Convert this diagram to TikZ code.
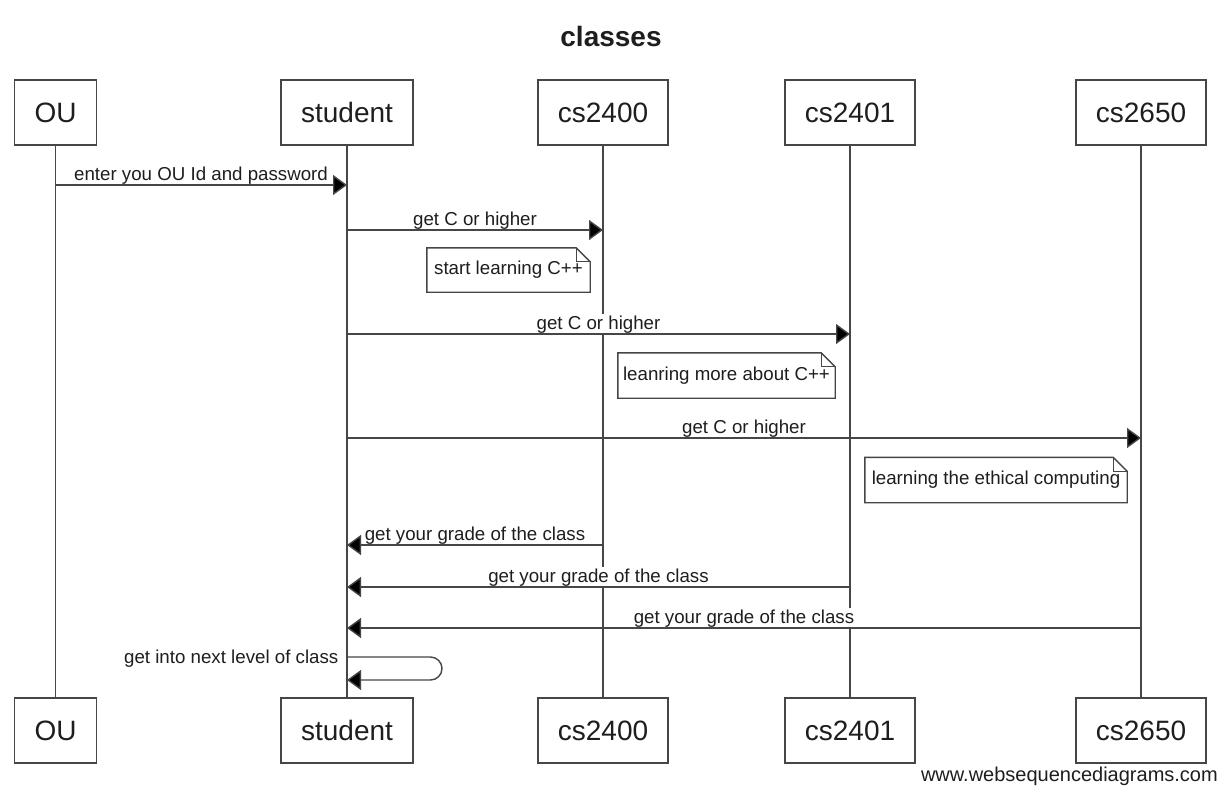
\documentclass[tikz,border=0pt]{standalone}
\usepackage{fontspec}
\setmainfont{Liberation Sans}
\usetikzlibrary{arrows.meta,backgrounds}
\definecolor{linec}{RGB}{70,70,70}
\definecolor{textc}{RGB}{30,30,30}
\begin{document}
\begin{tikzpicture}[x=1pt,y=-1pt,
  actor/.style={draw=linec,line width=1.4pt,fill=white,minimum height=65pt,inner xsep=20pt,
    font=\fontsize{28}{30}\selectfont,text=textc},
  lifeline/.style={draw=linec,line width=1.4pt},
  msg/.style={draw=linec,line width=1.4pt,-{Triangle[length=14pt,width=20pt,fill=black]}},
  lbl/.style={fill=white,inner sep=1.5pt,anchor=base,font=\fontsize{18.7}{20}\selectfont,text=textc},
  notetext/.style={font=\fontsize{18.7}{20}\selectfont,text=textc,inner sep=0pt},
  noteline/.style={draw=linec,line width=1.4pt,fill=white}]
\useasboundingbox (0,0) rectangle (1230,808);
% title
\node[anchor=base,font=\bfseries\fontsize{28}{30}\selectfont,text=textc] (title) at (611,47) {classes};
% actor boxes
\node[actor] (OUt) at (55.5,112.5) {OU};
\node[actor] (stt) at (347,112.5) {student};
\node[actor] (at) at (603,112.5) {cs2400};
\node[actor] (bt) at (850,112.5) {cs2401};
\node[actor] (ct) at (1141,112.5) {cs2650};
\node[actor] (OUb) at (55.5,730.5) {OU};
\node[actor] (stb) at (347,730.5) {student};
\node[actor] (ab) at (603,730.5) {cs2400};
\node[actor] (bb) at (850,730.5) {cs2401};
\node[actor] (cb) at (1141,730.5) {cs2650};
% lifelines behind
\begin{scope}[on background layer]
\fill[white] (0,0) rectangle (1230,808);
\draw[lifeline] (OUt.south) -- (OUb.north);
\draw[lifeline] (stt.south) -- (stb.north);
\draw[lifeline] (at.south) -- (ab.north);
\draw[lifeline] (bt.south) -- (bb.north);
\draw[lifeline] (ct.south) -- (cb.north);
\end{scope}
% message rows
\coordinate (y1) at (0,185);
\coordinate (y2) at (0,230);
\coordinate (y3) at (0,334);
\coordinate (y4) at (0,438);
\coordinate (y5) at (0,545);
\coordinate (y6) at (0,587);
\coordinate (y7) at (0,628);
% messages (label first so the line stays on top of it)
\node[lbl] (l1) at (201,180) {enter you OU Id and password};
\draw[msg] (OUt |- y1) -- (stt |- y1);
\node[lbl] (l2) at (475,225) {get C or higher};
\draw[msg] (stt |- y2) -- (at |- y2);
\node[lbl] (l3) at (598.5,329) {get C or higher};
\draw[msg] (stt |- y3) -- (bt |- y3);
\node[lbl] (l4) at (744,433) {get C or higher};
\draw[msg] (stt |- y4) -- (ct |- y4);
\node[lbl] (l5) at (475,540) {get your grade of the class};
\draw[msg] (at |- y5) -- (stt |- y5);
\node[lbl] (l6) at (598.5,582) {get your grade of the class};
\draw[msg] (bt |- y6) -- (stt |- y6);
\node[lbl] (l7) at (744,623) {get your grade of the class};
\draw[msg] (ct |- y7) -- (stt |- y7);
% self message
\coordinate (s1) at (347,657);
\coordinate (s2) at (442,657);
\coordinate (s3) at (442,680);
\coordinate (s4) at (347,680);
\draw[msg,rounded corners=11.5pt] (s1) -- (s2) -- (s3) -- (s4);
\node[lbl,anchor=base east,fill=none] (l8) at (340,663) {get into next level of class};
% notes
\foreach \nm/\cx/\cy/\w/\h/\t in {n1/508.5/270/163/44/{start learning C++},
                                   n2/726.5/375.5/217/45/{leanring more about C++},
                                   n3/996/480/262/45/{learning the ethical computing}}{
  \node[notetext,minimum width=\w pt,minimum height=\h pt] (\nm) at (\cx,\cy) {};
  \draw[noteline] (\nm.north west) -- ([xshift=-14pt]\nm.north east) -- ([yshift=-14pt]\nm.north east)
     -- (\nm.south east) -- (\nm.south west) -- cycle;
  \draw[draw=linec,line width=1.2pt] ([xshift=-14pt]\nm.north east) -- ([xshift=-14pt,yshift=-14pt]\nm.north east)
     -- ([yshift=-14pt]\nm.north east);
  \node[notetext] at (\nm) {\t};
}
% footer
\node[anchor=base east,font=\fontsize{20}{22}\selectfont,text=textc,inner sep=0pt] (footer) at (1218,781) {www.websequencediagrams.com};
\end{tikzpicture}
\end{document}
